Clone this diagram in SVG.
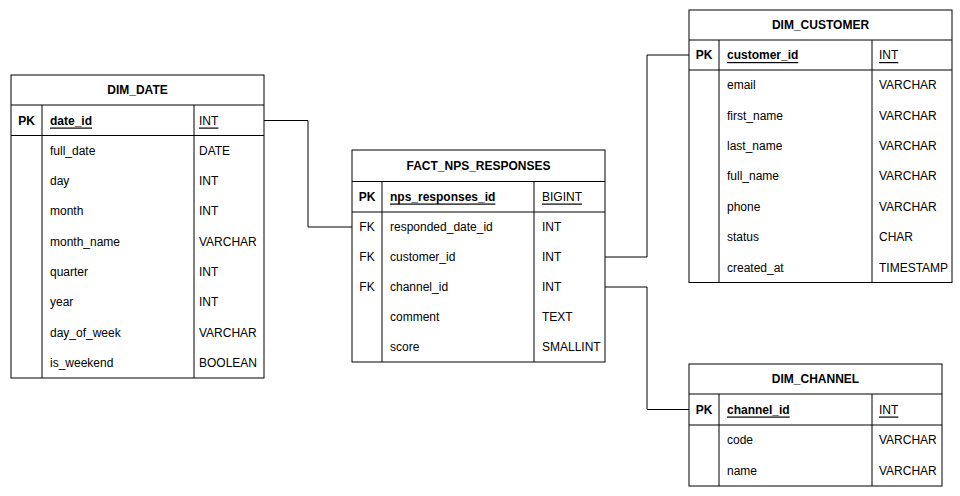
<svg xmlns="http://www.w3.org/2000/svg" width="960" height="496" viewBox="0 0 960 496">
<style>
  .box{fill:#fff;stroke:#000;stroke-width:1}
  .ln{stroke:#000;stroke-width:1;fill:none}
  .conn{stroke:#000;stroke-width:1;fill:none}
  text{font-family:"Liberation Sans",Arial,Helvetica,sans-serif;font-size:12px;fill:#000;dominant-baseline:central}
  .hd{font-weight:bold;text-anchor:middle}
  .pk{font-weight:bold;text-anchor:middle}
  .key{text-anchor:middle}
  .pkn{font-weight:bold;text-decoration:underline}
  .pkt{text-decoration:underline}
</style>
<rect width="960" height="496" fill="#fff"/>

<g id="connectors">
  <path class="conn" d="M264,120.5 H308 V227 H352"/>
  <path class="conn" d="M605,257 H647 V55 H689"/>
  <path class="conn" d="M605,287 H647 V409.5 H689"/>
</g>

<g id="dim_date">
  <rect class="box" x="11" y="75" width="253" height="303"/>
  <line class="ln" x1="11" y1="105" x2="264" y2="105"/>
  <line class="ln" x1="11" y1="135.5" x2="264" y2="135.5"/>
  <line class="ln" x1="42" y1="105" x2="42" y2="378"/>
  <line class="ln" x1="194" y1="105" x2="194" y2="378"/>
  <text class="hd" x="137.5" y="90">DIM_DATE</text>
  <text class="pk" x="26.5" y="120.5">PK</text>
  <text class="pkn" x="50" y="120.5">date_id</text>
  <text class="pkt" x="199" y="120.5">INT</text>
  <text x="50" y="150.5">full_date</text><text x="199" y="150.5">DATE</text>
  <text x="50" y="180.9">day</text><text x="199" y="180.9">INT</text>
  <text x="50" y="211.2">month</text><text x="199" y="211.2">INT</text>
  <text x="50" y="241.6">month_name</text><text x="199" y="241.6">VARCHAR</text>
  <text x="50" y="271.9">quarter</text><text x="199" y="271.9">INT</text>
  <text x="50" y="302.3">year</text><text x="199" y="302.3">INT</text>
  <text x="50" y="332.6">day_of_week</text><text x="199" y="332.6">VARCHAR</text>
  <text x="50" y="363">is_weekend</text><text x="199" y="363">BOOLEAN</text>
</g>

<g id="fact_nps_responses">
  <rect class="box" x="352" y="150" width="253" height="212"/>
  <line class="ln" x1="352" y1="181.5" x2="605" y2="181.5"/>
  <line class="ln" x1="352" y1="212" x2="605" y2="212"/>
  <line class="ln" x1="382" y1="181.5" x2="382" y2="362"/>
  <line class="ln" x1="534" y1="181.5" x2="534" y2="362"/>
  <text class="hd" x="478.5" y="166">FACT_NPS_RESPONSES</text>
  <text class="pk" x="367" y="196.5">PK</text>
  <text class="pkn" x="390" y="196.5">nps_responses_id</text>
  <text class="pkt" x="542" y="196.5">BIGINT</text>
  <text class="key" x="367" y="227">FK</text><text x="390" y="227">responded_date_id</text><text x="542" y="227">INT</text>
  <text class="key" x="367" y="257">FK</text><text x="390" y="257">customer_id</text><text x="542" y="257">INT</text>
  <text class="key" x="367" y="287">FK</text><text x="390" y="287">channel_id</text><text x="542" y="287">INT</text>
  <text x="390" y="317">comment</text><text x="542" y="317">TEXT</text>
  <text x="390" y="347">score</text><text x="542" y="347">SMALLINT</text>
</g>

<g id="dim_customer">
  <rect class="box" x="689" y="10" width="263" height="272.5"/>
  <line class="ln" x1="689" y1="40" x2="952" y2="40"/>
  <line class="ln" x1="689" y1="70" x2="952" y2="70"/>
  <line class="ln" x1="719" y1="40" x2="719" y2="282.5"/>
  <line class="ln" x1="872" y1="40" x2="872" y2="282.5"/>
  <text class="hd" x="820.5" y="25">DIM_CUSTOMER</text>
  <text class="pk" x="704" y="55">PK</text>
  <text class="pkn" x="727" y="55">customer_id</text>
  <text class="pkt" x="879" y="55">INT</text>
  <text x="727" y="85.2">email</text><text x="879" y="85.2">VARCHAR</text>
  <text x="727" y="115.5">first_name</text><text x="879" y="115.5">VARCHAR</text>
  <text x="727" y="145.9">last_name</text><text x="879" y="145.9">VARCHAR</text>
  <text x="727" y="176.3">full_name</text><text x="879" y="176.3">VARCHAR</text>
  <text x="727" y="206.7">phone</text><text x="879" y="206.7">VARCHAR</text>
  <text x="727" y="237.1">status</text><text x="879" y="237.1">CHAR</text>
  <text x="727" y="267.5">created_at</text><text x="879" y="267.5">TIMESTAMP</text>
</g>

<g id="dim_channel">
  <rect class="box" x="689" y="364" width="253" height="122"/>
  <line class="ln" x1="689" y1="394" x2="942" y2="394"/>
  <line class="ln" x1="689" y1="425" x2="942" y2="425"/>
  <line class="ln" x1="719" y1="394" x2="719" y2="486"/>
  <line class="ln" x1="872" y1="394" x2="872" y2="486"/>
  <text class="hd" x="815.5" y="379">DIM_CHANNEL</text>
  <text class="pk" x="704" y="409.5">PK</text>
  <text class="pkn" x="727" y="409.5">channel_id</text>
  <text class="pkt" x="879" y="409.5">INT</text>
  <text x="727" y="440">code</text><text x="879" y="440">VARCHAR</text>
  <text x="727" y="470.5">name</text><text x="879" y="470.5">VARCHAR</text>
</g>
</svg>
